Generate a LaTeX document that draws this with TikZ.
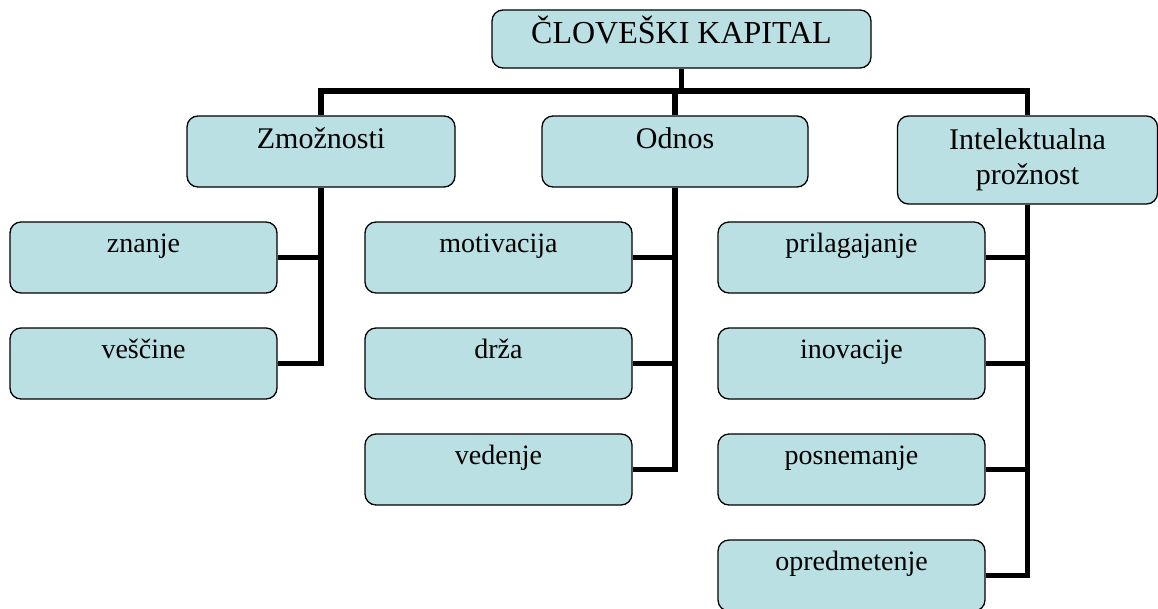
\documentclass[tikz,border=0pt]{standalone}
\usepackage{fontspec}
\setmainfont{Liberation Serif}
\usetikzlibrary{calc}
\definecolor{boxfill}{RGB}{187,224,227}
\begin{document}
\begin{tikzpicture}[x=1pt,y=-1pt,
  box/.style={draw=black, line width=1.3pt, fill=boxfill, rounded corners=11pt, inner sep=0pt},
  rootbox/.style={box, minimum width=379pt, minimum height=58pt},
  midbox/.style={box, minimum width=267pt, minimum height=71pt},
  leafbox/.style={box, minimum width=267pt, minimum height=71pt},
  roottext/.style={anchor=base, inner sep=0pt, font=\fontsize{32}{38}\selectfont},
  midtext/.style={anchor=base, inner sep=0pt, font=\fontsize{30}{35}\selectfont},
  leaftext/.style={anchor=base, inner sep=0pt, font=\fontsize{28}{34}\selectfont},
  conn/.style={draw=black, line width=5.8pt, line join=miter}]
\useasboundingbox (0,0) rectangle (1158,608);

% top level
\node[rootbox] (root) at (681.5,39) {};
\node[roottext] (root-t) at ($(root.north)+(0,34)$) {ČLOVEŠKI KAPITAL};

% second level
\node[midbox, minimum width=268pt] (zm) at (321,151.5) {};
\node[midtext] (zm-t) at ($(zm.north)+(0,33)$) {Zmožnosti};
\node[midbox, minimum width=266pt] (od) at (675,151.5) {};
\node[midtext] (od-t) at ($(od.north)+(0,33)$) {Odnos};
\node[midbox, minimum width=260pt, minimum height=88pt] (in) at (1027.5,160) {};
\node[anchor=north, inner sep=0pt, align=center, font=\fontsize{30}{35}\selectfont]
  (in-t) at ($(in.north)+(0,13.5)$) {Intelektualna\\prožnost};

% leaves under Zmožnosti
\node[leafbox] (zn) at (143.5,257.5) {};
\node[leaftext] (zn-t) at ($(zn.north)+(0,31)$) {znanje};
\node[leafbox] (ve) at (143.5,363.5) {};
\node[leaftext] (ve-t) at ($(ve.north)+(0,31)$) {veščine};

% leaves under Odnos
\node[leafbox] (mo) at (498.5,257.5) {};
\node[leaftext] (mo-t) at ($(mo.north)+(0,31)$) {motivacija};
\node[leafbox] (dr) at (498.5,363.5) {};
\node[leaftext] (dr-t) at ($(dr.north)+(0,31)$) {drža};
\node[leafbox] (vd) at (498.5,469.5) {};
\node[leaftext] (vd-t) at ($(vd.north)+(0,31)$) {vedenje};

% leaves under Intelektualna prožnost
\node[leafbox] (pr) at (851.5,257.5) {};
\node[leaftext] (pr-t) at ($(pr.north)+(0,31)$) {prilagajanje};
\node[leafbox] (iv) at (851.5,363.5) {};
\node[leaftext] (iv-t) at ($(iv.north)+(0,31)$) {inovacije};
\node[leafbox] (po) at (851.5,469.5) {};
\node[leaftext] (po-t) at ($(po.north)+(0,31)$) {posnemanje};
\node[leafbox] (op) at (851.5,575.5) {};
\node[leaftext] (op-t) at ($(op.north)+(0,31)$) {opredmetenje};

% connectors
\draw[conn] (root.south) -- ++(0,24);
\draw[conn] (zm.north) -- ++(0,-24) -| (in.north);
\draw[conn] (od.north) -- ++(0,-24);

\draw[conn] (zm.south) |- (ve.east);
\draw[conn] (zm.south) |- (zn.east);

\draw[conn] (od.south) |- (vd.east);
\draw[conn] (od.south) |- (dr.east);
\draw[conn] (od.south) |- (mo.east);

\draw[conn] (in.south) |- (op.east);
\draw[conn] (in.south) |- (po.east);
\draw[conn] (in.south) |- (iv.east);
\draw[conn] (in.south) |- (pr.east);
\end{tikzpicture}
\end{document}
